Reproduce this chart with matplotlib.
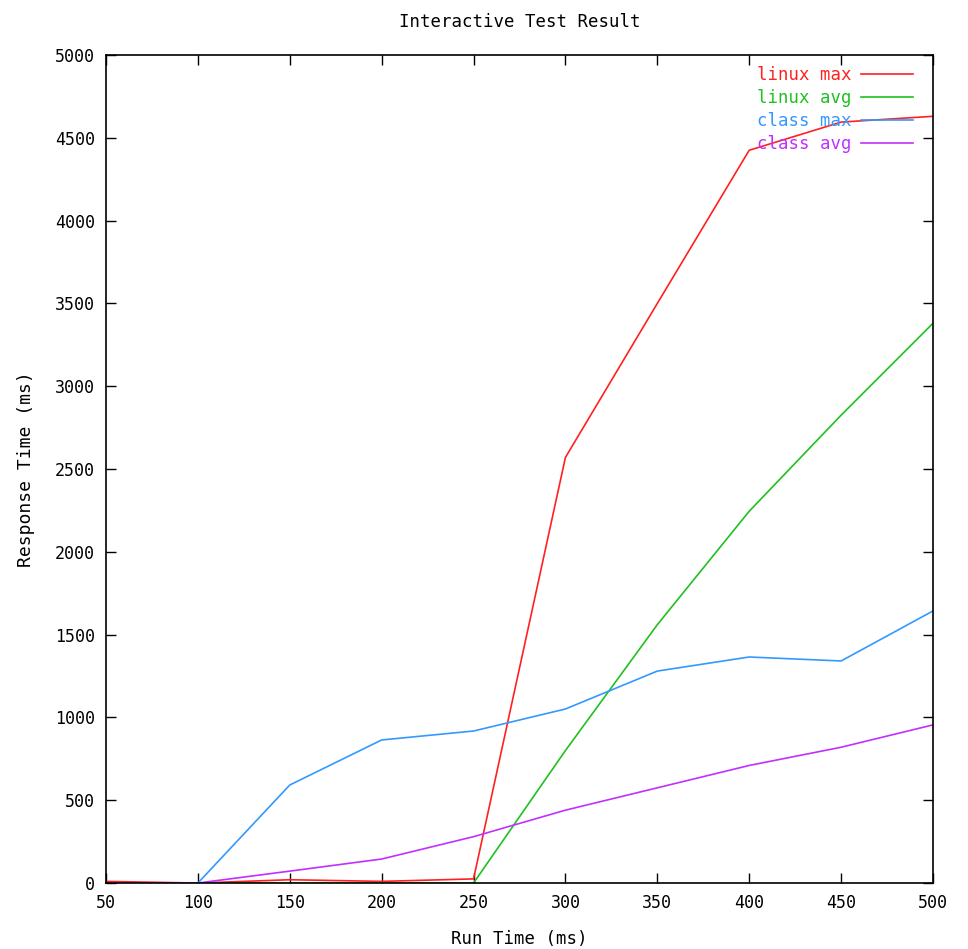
import matplotlib
matplotlib.use("Agg")
import matplotlib.pyplot as plt

run_time = [50, 100, 150, 200, 250, 300, 350, 400, 450, 500]
linux_max = [10, 0, 20, 10, 25, 2570, 3500, 4425, 4595, 4630]
linux_avg = [0, 0, 0, 0, 0, 800, 1560, 2245, 2825, 3380]
class_max = [0, 0, 592, 864, 918, 1051, 1280, 1365, 1341, 1643]
class_avg = [0, 0, 72, 145, 280, 440, 575, 710, 820, 955]

series = [
    ("linux max", linux_max, "#ff2020"),
    ("linux avg", linux_avg, "#20c020"),
    ("class max", class_max, "#3399ff"),
    ("class avg", class_avg, "#c030ff"),
]

plt.rcParams['font.family'] = ['DejaVu Sans Mono']
fig = plt.figure(figsize=(9.68, 9.49), dpi=100)
ax = fig.add_axes([0.1095, 0.0695, 0.9638 - 0.1095, 0.942 - 0.0695])

for name, vals, col in series:
    ax.plot(run_time, vals, color=col, lw=1.2, label=name)

ax.set_xlim(50, 500)
ax.set_ylim(0, 5000)
ax.set_xticks(range(50, 501, 50))
ax.set_yticks(range(0, 5001, 500))
ax.tick_params(direction='in', length=7, width=1, top=True, right=True,
               labelsize=12, pad=8)
for s in ax.spines.values():
    s.set_linewidth(1.2)

ax.set_title("Interactive Test Result", fontsize=12.5, pad=20)
ax.set_xlabel("Run Time (ms)", fontsize=12.5, labelpad=13)
ax.set_ylabel("Response Time (ms)", fontsize=13, labelpad=14)

leg = ax.legend(loc='upper right', frameon=False, markerfirst=False,
                labelcolor='linecolor', fontsize=12.5, handlelength=3.0,
                handletextpad=0.55, labelspacing=0.3, borderpad=0,
                borderaxespad=0, bbox_to_anchor=(0.976, 0.987))

fig.savefig("out.png", dpi=100)
